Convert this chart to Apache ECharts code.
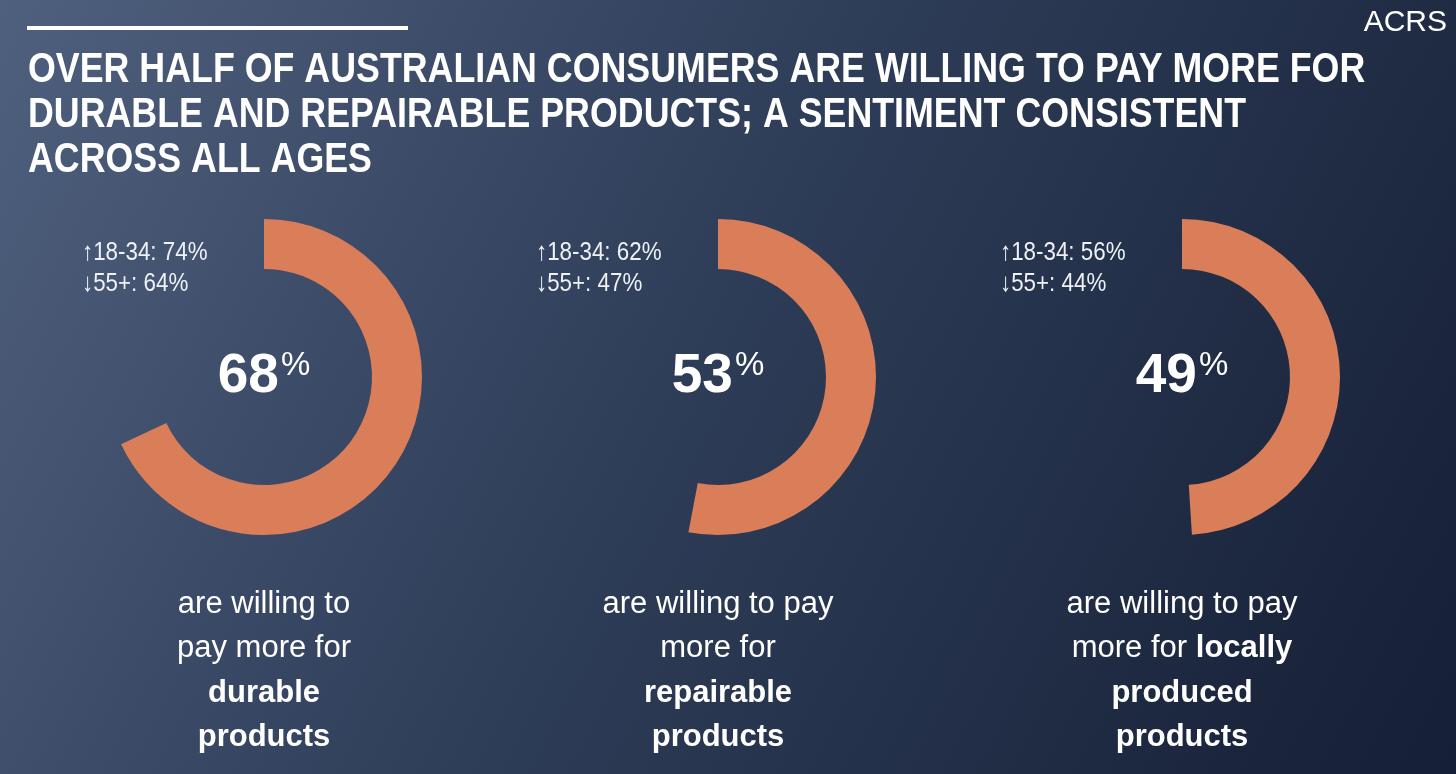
<!DOCTYPE html>
<html>
<head>
<meta charset="utf-8">
<script src="https://cdn.jsdelivr.net/npm/echarts@6/dist/echarts.min.js"></script>
<style>
html,body{margin:0;padding:0;width:1456px;height:774px;overflow:hidden;background:#2e3d58;}
#chart{width:1456px;height:774px;}
</style>
</head>
<body>
<div id="chart"></div>
<script>
// ---- data ----
const categories = ['durable', 'repairable', 'locally produced'];
const overall = [68, 53, 49];
const age1834 = [74, 62, 56];
const age55plus = [64, 47, 44];
const captionLines = [
  [['are willing to'], ['pay more for'], [null, 'durable'], [null, 'products']],
  [['are willing to pay'], ['more for'], [null, 'repairable'], [null, 'products']],
  [['are willing to pay'], ['more for ', 'locally'], [null, 'produced'], [null, 'products']]
];
const titleLines = [
  'OVER HALF OF AUSTRALIAN CONSUMERS ARE WILLING TO PAY MORE FOR',
  'DURABLE AND REPAIRABLE PRODUCTS; A SENTIMENT CONSISTENT',
  'ACROSS ALL AGES'
];
const brand = 'ACRS';

// ---- layout ----
const centersX = [264, 718, 1182];
const centerY = 377;
const ringInner = 108, ringOuter = 158;
const ORANGE = '#da7d59';
const SANS = '"Liberation Sans", Arial, Helvetica, sans-serif';

const chart = echarts.init(document.getElementById('chart'), null, {renderer: 'canvas'});

const series = overall.map((v, i) => ({
  type: 'pie',
  silent: true,
  center: [centersX[i], centerY],
  radius: [ringInner, ringOuter],
  startAngle: 90,
  clockwise: true,
  avoidLabelOverlap: false,
  labelLine: {show: false},
  emphasis: {disabled: true},
  itemStyle: {borderWidth: 0},
  data: [
    {
      value: v, name: categories[i],
      itemStyle: {color: ORANGE},
      label: {
        show: true, position: 'center',
        formatter: '{n|' + v + '}{p|%}',
        rich: {
          n: {fontFamily: SANS, fontWeight: 'bold', fontSize: 55, color: '#ffffff', lineHeight: 60, verticalAlign: 'middle'},
          p: {fontFamily: SANS, fontWeight: 'normal', fontSize: 33, color: '#ffffff', lineHeight: 60, verticalAlign: 'top', padding: [2, 0, 0, 2]}
        }
      }
    },
    {value: 100 - v, name: 'rest', itemStyle: {color: 'rgba(0,0,0,0)'}, label: {show: false}}
  ]
}));

const graphics = [];
// top rule
graphics.push({type: 'rect', shape: {x: 27, y: 26, width: 381, height: 4}, style: {fill: '#ffffff'}, silent: true});
// title (condensed look via horizontal scale)
graphics.push({
  type: 'text', x: 28, y: 115, scaleX: 0.852, silent: true,
  style: {text: titleLines.join('\n'), fill: '#ffffff', font: 'bold 42px ' + SANS, lineHeight: 45, verticalAlign: 'middle', align: 'left'}
});
// brand
graphics.push({
  type: 'text', x: 1447, y: 23, silent: true,
  style: {text: brand, fill: '#ffffff', font: '30px ' + SANS, verticalAlign: 'middle', align: 'right'}
});
// age notes and captions
overall.forEach((v, i) => {
  graphics.push({
    type: 'text', x: centersX[i] - 182, y: 268, scaleX: 0.86, silent: true,
    style: {
      text: '\u2191' + '18-34: ' + age1834[i] + '%\n' + '\u2193' + '55+: ' + age55plus[i] + '%',
      fill: '#eef1f5', font: '26px ' + SANS, lineHeight: 31, verticalAlign: 'middle', align: 'left'
    }
  });
  const txt = captionLines[i].map(parts => {
    let s = '';
    if (parts[0]) s += '{r|' + parts[0] + '}';
    if (parts[1]) s += '{b|' + parts[1] + '}';
    return s;
  }).join('\n');
  graphics.push({
    type: 'text', x: centersX[i], y: 671, silent: true,
    style: {
      text: txt, align: 'center', verticalAlign: 'middle', lineHeight: 44.5,
      rich: {
        r: {fill: '#ffffff', font: '31px ' + SANS, lineHeight: 44.5},
        b: {fill: '#ffffff', font: 'bold 31px ' + SANS, lineHeight: 44.5}
      }
    }
  });
});

chart.setOption({
  animation: false,
  backgroundColor: {
    type: 'linear', x: 0, y: 0, x2: 1, y2: 1,
    colorStops: [
      {offset: 0, color: '#4f607e'},
      {offset: 0.45, color: '#2f3e59'},
      {offset: 1, color: '#151f35'}
    ]
  },
  series: series,
  graphic: graphics
});
</script>
</body>
</html>
